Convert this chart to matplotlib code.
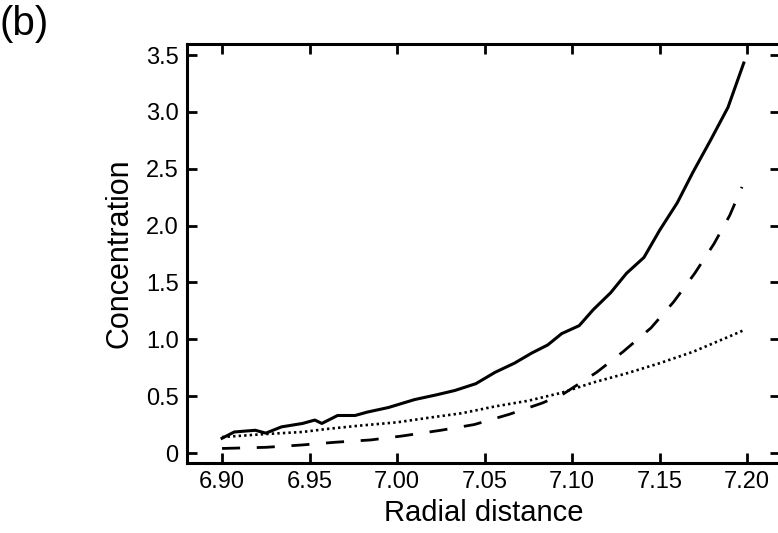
import matplotlib
matplotlib.use("Agg")
from matplotlib import pyplot as plt

plt.rcParams['font.family'] = ['Liberation Sans', 'DejaVu Sans']

# solid curve (keeps the small wiggles)
r_solid = [6.900, 6.907, 6.919, 6.925, 6.934, 6.946, 6.953, 6.957, 6.966, 6.976,
           6.983, 6.995, 7.010, 7.022, 7.033, 7.045, 7.056, 7.067, 7.077, 7.086,
           7.094, 7.104, 7.112, 7.122, 7.131, 7.141, 7.150, 7.160, 7.169, 7.179,
           7.189, 7.198]
c_solid = [0.13, 0.185, 0.20, 0.175, 0.23, 0.26, 0.29, 0.26, 0.33, 0.33,
           0.36, 0.40, 0.47, 0.51, 0.55, 0.61, 0.71, 0.79, 0.88, 0.95,
           1.05, 1.12, 1.26, 1.41, 1.58, 1.72, 1.96, 2.20, 2.47, 2.75,
           3.04, 3.43]

# dashed curve
r_dashed = [6.900, 6.925, 6.945, 6.965, 6.985, 7.003, 7.025, 7.044, 7.064, 7.083,
            7.095, 7.114, 7.129, 7.145, 7.158, 7.170, 7.181, 7.190, 7.197]
c_dashed = [0.04, 0.05, 0.07, 0.095, 0.115, 0.15, 0.20, 0.25, 0.34, 0.44,
            0.52, 0.71, 0.89, 1.10, 1.33, 1.58, 1.84, 2.09, 2.34]

# dotted curve
r_dotted = [6.900, 6.925, 6.946, 6.959, 6.978, 7.000, 7.018, 7.037, 7.056, 7.075,
            7.094, 7.112, 7.131, 7.150, 7.169, 7.189, 7.198]
c_dotted = [0.14, 0.167, 0.185, 0.21, 0.24, 0.27, 0.31, 0.35, 0.41, 0.46,
            0.53, 0.62, 0.70, 0.79, 0.89, 1.02, 1.08]

xticks = [6.90, 6.95, 7.00, 7.05, 7.10, 7.15, 7.20]
yticks = [0, 0.5, 1.0, 1.5, 2.0, 2.5, 3.0, 3.5]
ytick_labels = ["0", "0.5", "1.0", "1.5", "2.0", "2.5", "3.0", "3.5"]

fig = plt.figure(figsize=(7.78, 5.33), dpi=100)
ax = fig.add_axes([0.2404, 0.1313, 0.7626, 0.7861])

ax.plot(r_solid, c_solid, color="black", lw=2.2, solid_joinstyle="round")
ax.plot(r_dashed, c_dashed, color="black", lw=2.0, dashes=(6.5, 6))
ax.plot(r_dotted, c_dotted, color="black", lw=1.9, dashes=(0.9, 1.2))

ax.set_xlim(6.88, 7.2189)
ax.set_ylim(-0.088, 3.597)
ax.set_xticks(xticks)
ax.set_xticklabels([f"{v:.2f}" for v in xticks])
ax.set_yticks(yticks)
ax.set_yticklabels(ytick_labels)

ax.tick_params(direction="in", length=7, width=2, labelsize=17,
               top=True, right=True, pad=6)
for sp in ax.spines.values():
    sp.set_linewidth(2.2)

ax.set_xlabel("Radial distance", fontsize=21, labelpad=4)
ax.set_ylabel("Concentration", fontsize=22, labelpad=8)

fig.text(0.0, 0.99, "(b)", fontsize=29, va="top", ha="left")

fig.savefig("out.png", dpi=100)
